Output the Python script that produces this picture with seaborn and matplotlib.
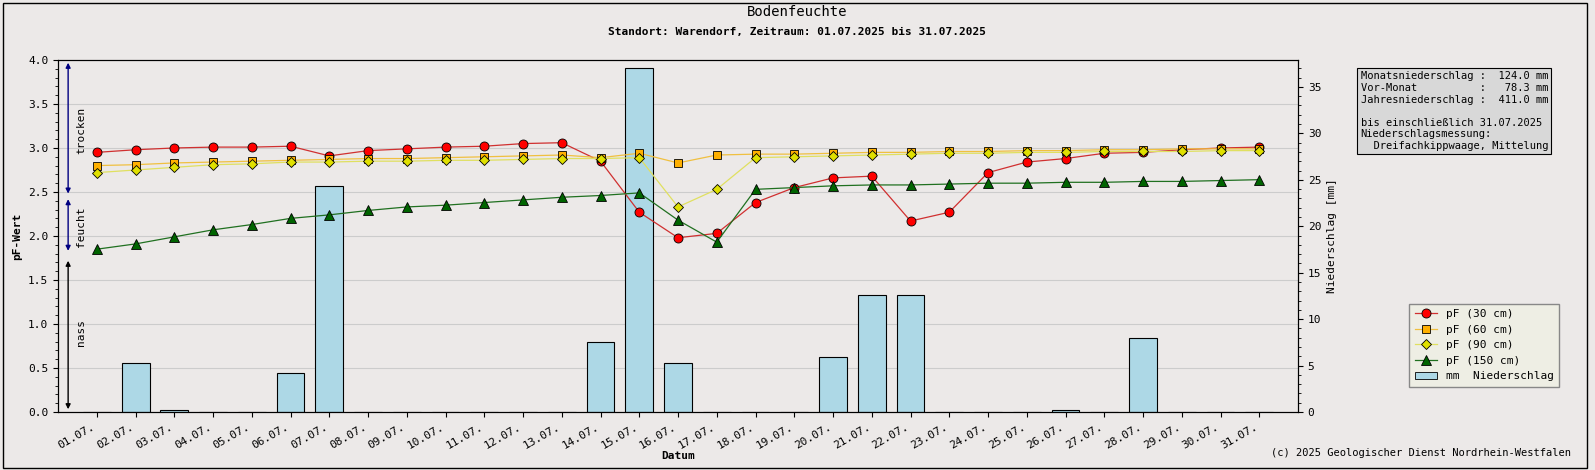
import numpy as np
import pandas as pd
import matplotlib
matplotlib.use("Agg")
import matplotlib.pyplot as plt
import seaborn as sns

days = list(range(1, 32))
labels = [f"{d:02d}.07." for d in days]
pf30 = [2.95, 2.98, 3.00, 3.01, 3.01, 3.02, 2.91, 2.97, 2.99, 3.01, 3.02, 3.05, 3.06, 2.85, 2.27, 1.98,
        2.03, 2.38, 2.55, 2.66, 2.68, 2.17, 2.27, 2.72, 2.84, 2.88, 2.94, 2.95, 2.98, 3.00, 3.01]
pf60 = [2.80, 2.81, 2.83, 2.84, 2.85, 2.86, 2.87, 2.88, 2.88, 2.89, 2.90, 2.91, 2.92, 2.89, 2.94, 2.83,
        2.92, 2.93, 2.93, 2.94, 2.95, 2.95, 2.96, 2.96, 2.97, 2.97, 2.98, 2.98, 2.99, 2.99, 2.99]
pf90 = [2.72, 2.75, 2.78, 2.81, 2.82, 2.84, 2.84, 2.85, 2.85, 2.86, 2.86, 2.87, 2.88, 2.88, 2.89, 2.33,
        2.53, 2.89, 2.90, 2.91, 2.92, 2.93, 2.94, 2.94, 2.95, 2.95, 2.96, 2.96, 2.96, 2.97, 2.97]
pf150 = [1.85, 1.91, 1.99, 2.07, 2.13, 2.20, 2.24, 2.29, 2.33, 2.35, 2.38, 2.41, 2.44, 2.46, 2.49, 2.18,
         1.93, 2.53, 2.55, 2.57, 2.58, 2.58, 2.59, 2.60, 2.60, 2.61, 2.61, 2.62, 2.62, 2.63, 2.64]
regen = [0, 5.3, 0.2, 0, 0, 4.2, 24.3, 0, 0, 0, 0, 0, 0, 7.5, 37.0, 5.3,
         0, 0, 0, 5.9, 12.6, 12.6, 0, 0, 0, 0.2, 0, 8.0, 0, 0, 0]

mono = "DejaVu Sans Mono"
plt.rcParams["font.family"] = mono
plt.rcParams["font.size"] = 8

fig = plt.figure(figsize=(15.95, 4.7), dpi=100, facecolor="#ece9e8")
ax = fig.add_axes([0.0364, 0.1234, 0.7774, 0.749])
ax2 = ax.twinx()
ax2.set_facecolor("white")
ax.set_zorder(ax2.get_zorder() + 1)
ax.patch.set_visible(False)

df_r = pd.DataFrame({"tag": days, "mm": regen})
sns.barplot(data=df_r, x="tag", y="mm", native_scale=True, width=0.72, color="#add8e6",
            edgecolor="black", linewidth=0.8, saturation=1, ax=ax2)
ax2.set_ylim(0, 37.9)
ax2.set_yticks(range(0, 36, 5))
ax2.set_yticks(range(0, 38), minor=True)
ax2.set_ylabel("Niederschlag [mm]")
ax2.set_xlabel("")

series = [("pF (30 cm)", pf30, "#ff0000", "#d03030", "o", 6.5),
          ("pF (60 cm)", pf60, "#ffb000", "#f0c040", "s", 6),
          ("pF (90 cm)", pf90, "#e0e000", "#e0e060", "D", 5.5),
          ("pF (150 cm)", pf150, "#006400", "#207020", "^", 6.5)]
handles = []
for name, vals, fc, lc, m, ms in series:
    sns.lineplot(x=days, y=vals, ax=ax, color=lc, lw=0.9, marker=m, markersize=ms,
                 markerfacecolor=fc, markeredgecolor="black", markeredgewidth=0.6)
    handles.append(plt.Line2D([], [], color=lc, lw=0.9, marker=m, markersize=ms,
                              markerfacecolor=fc, markeredgecolor="black", markeredgewidth=0.6, label=name))
handles.append(plt.Rectangle((0, 0), 1, 1, facecolor="#add8e6", edgecolor="black", lw=0.6,
                             label="mm  Niederschlag"))

ax.set_xlim(0, 32)
ax.set_ylim(0, 4)
ax.set_yticks(np.arange(0, 4.01, 0.5))
ax.set_yticks(np.arange(0, 4.01, 0.1), minor=True)
ax.set_xticks(days)
ax.set_xticklabels(labels, rotation=30, ha="right")
ax2.grid(False)
for v in np.arange(0.5, 4.0, 0.5):
    ax2.axhline(v * 37.9 / 4, color="#cccccc", lw=0.8, zorder=0)
ax.set_ylabel("pF-Wert", fontweight="bold")
ax.set_xlabel("Datum", fontweight="bold", labelpad=0)

# Bereichspfeile
xa = 0.26
for y0, y1, col in [(2.45, 4.0, "navy"), (1.8, 2.45, "navy"), (0.0, 1.75, "black")]:
    ax.annotate("", xy=(xa, y1), xytext=(xa, y0),
                arrowprops=dict(arrowstyle="<|-|>", color=col, lw=1, mutation_scale=7))
ax.text(xa + 0.2, 3.2, "trocken", rotation=90, va="center", ha="left")
ax.text(xa + 0.2, 2.1, "feucht", rotation=90, va="center", ha="left")
ax.text(xa + 0.2, 0.9, "nass", rotation=90, va="center", ha="left")

fig.text(0.5, 0.965, "Bodenfeuchte", ha="center", fontsize=10)
fig.text(0.5, 0.925, "Standort: Warendorf, Zeitraum: 01.07.2025 bis 31.07.2025",
         ha="center", fontsize=8, fontweight="bold")

info = ("Monatsniederschlag :  124.0 mm\n"
        "Vor-Monat          :   78.3 mm\n"
        "Jahresniederschlag :  411.0 mm\n\n"
        "bis einschließlich 31.07.2025\n"
        "Niederschlagsmessung:\n"
        "  Dreifachkippwaage, Mittelung")
fig.text(0.853, 0.848, info, ha="left", va="top", fontsize=7.5, linespacing=1.2,
         bbox=dict(boxstyle="square,pad=0.3", facecolor="#d8d8d8", edgecolor="black", lw=0.8))

fig.legend(handles=handles, loc="lower left", bbox_to_anchor=(0.88, 0.165), fontsize=8,
           frameon=True, fancybox=False, edgecolor="#888888", facecolor="#eeeee4", framealpha=1,
           borderpad=0.5, handlelength=2)
fig.text(0.985, 0.03, "(c) 2025 Geologischer Dienst Nordrhein-Westfalen", ha="right", fontsize=7.5)
fig.patches.append(plt.Rectangle((0.002, 0.004), 0.993, 0.99, transform=fig.transFigure,
                                 fill=False, edgecolor="black", lw=1))
fig.savefig("out.png", dpi=100, facecolor=fig.get_facecolor())
